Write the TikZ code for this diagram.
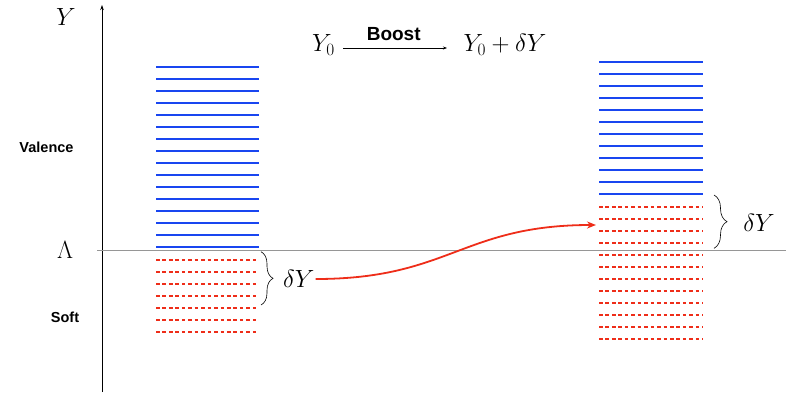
\documentclass[tikz,border=0pt]{standalone}
\usepackage{fontspec}
\newfontfamily\labfont{Liberation Sans}
\usetikzlibrary{arrows.meta,decorations.pathreplacing}
\definecolor{valblue}{RGB}{25,70,240}
\definecolor{softred}{RGB}{238,45,25}
\definecolor{cutgray}{RGB}{150,150,150}
\tikzset{
  valline/.style={draw=valblue,line width=2pt},
  softline/.style={draw=softred,line width=1.5pt,dash pattern=on 3.6pt off 2.85pt},
  cutline/.style={draw=cutgray,line width=1pt},
  axisline/.style={draw=black,line width=0.8pt,-{Stealth[length=5pt,width=3.5pt]}},
  boostarrow/.style={draw=black,line width=0.6pt,-{Stealth[length=4pt,width=3pt]}},
  movearrow/.style={draw=softred,line width=1.8pt,-{Stealth[length=9pt,width=7pt]}},
  bracestyle/.style={draw=black,line width=0.6pt,decorate},
  mathlab/.style={inner sep=0pt,font=\fontsize{25}{30}\selectfont},
  dylab/.style={inner sep=0pt,font=\fontsize{27}{32}\selectfont},
  toplab/.style={inner sep=0pt,font=\fontsize{23}{28}\selectfont},
  sidelab/.style={inner sep=0pt,font=\labfont\bfseries\fontsize{14.5}{17}\selectfont},
}
\begin{document}
\begin{tikzpicture}[x=1pt,y=-1pt]
\useasboundingbox (0,0) rectangle (786,393);
% axis
\coordinate (axbot) at (102,392);
\coordinate (axtop) at (102,5);
\draw[axisline] (axbot) -- (axtop);
% cutoff line
\coordinate (cutL) at (97,250);
\coordinate (cutR) at (786,250);
\draw[cutline] (cutL) -- (cutR);
% labels
\node[mathlab] (ylab) at (66,17) {$Y$};
\node[mathlab] (lam) at (65,250) {$\Lambda$};
\node[sidelab] (val) at (46.5,147.7) {Valence};
\node[sidelab] (soft) at (65,317.7) {Soft};
% left stack
\foreach \i in {0,...,15}{\draw[valline] (156,67+12*\i) -- (259,67+12*\i);}
\foreach \i in {0,...,6}{\draw[softline] (156,260+12*\i) -- (259,260+12*\i);}
% right stack
\foreach \i in {0,...,11}{\draw[valline] (599,62+12*\i) -- (703,62+12*\i);}
\foreach \i in {0,...,11}{\draw[softline] (599,207+12*\i) -- (703,207+12*\i);}
% braces
\coordinate (bLt) at (261,251.7);
\coordinate (bLb) at (261,305);
\draw[bracestyle,decoration={brace,amplitude=12pt}] (bLt) -- (bLb);
\coordinate (bRt) at (714,195);
\coordinate (bRb) at (714,248.3);
\draw[bracestyle,decoration={brace,amplitude=13pt}] (bRt) -- (bRb);
\node[dylab] (dyL) at (298.8,279) {$\delta Y$};
\node[dylab] (dyR) at (759,223) {$\delta Y$};
% move arrow
\coordinate (tgt) at (596,225);
\draw[movearrow] ([xshift=1pt]dyL.east) to[out=0,in=180,looseness=1.2] (tgt);
% top formula
\node[toplab] (y0) at (323.4,45) {$Y_0$};
\node[toplab] (y1) at (505,45) {$Y_0+\delta Y$};
\node[sidelab,font=\labfont\bfseries\fontsize{19}{22}\selectfont] (boost) at (393.7,34) {Boost};
\coordinate (ba) at (343,48);
\coordinate (bb) at (447,48);
\draw[boostarrow] (ba) -- (bb);
\end{tikzpicture}
\end{document}
